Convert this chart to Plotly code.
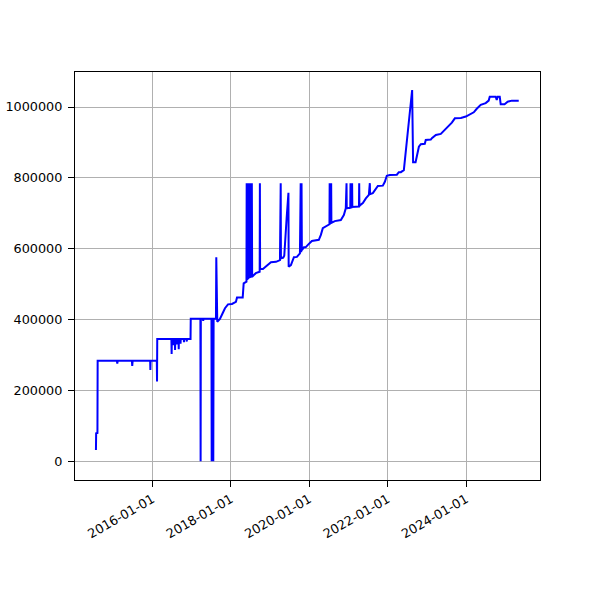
import plotly.graph_objects as go

dates = [
    "2014-07-25", "2014-07-27", "2014-08-08", "2014-08-10",
    "2015-02-05", "2015-02-09", "2015-02-13",
    "2015-06-25", "2015-06-28", "2015-07-02",
    "2015-12-12", "2015-12-14", "2015-12-16",
    "2016-02-12", "2016-02-14", "2016-02-16",
    "2016-06-27", "2016-06-29", "2016-07-01",
    "2016-07-14", "2016-07-16", "2016-07-18",
    "2016-07-29", "2016-07-31", "2016-08-02",
    "2016-08-12", "2016-08-14", "2016-08-16",
    "2016-09-01", "2016-09-03", "2016-09-05",
    "2016-09-18", "2016-09-20", "2016-09-22",
    "2016-10-20", "2016-10-22", "2016-10-24",
    "2016-11-15", "2016-11-17", "2016-11-19",
    "2016-12-22", "2016-12-24",
    "2017-03-24", "2017-03-26", "2017-03-28",
    "2017-04-17", "2017-04-19", "2017-04-21",
    "2017-07-05", "2017-07-07", "2017-07-09",
    "2017-07-20", "2017-07-22", "2017-07-25",
    "2017-08-16", "2017-08-19", "2017-08-28",
    "2017-09-22", "2017-10-17", "2017-11-08", "2017-12-06",
    "2018-01-12", "2018-02-18", "2018-02-28", "2018-04-22", "2018-05-01",
    "2018-05-27", "2018-05-29", "2018-06-03", "2018-06-06", "2018-06-11",
    "2018-06-14", "2018-06-19", "2018-06-22", "2018-06-27", "2018-06-30",
    "2018-07-05", "2018-07-08", "2018-07-13", "2018-07-16", "2018-07-19",
    "2018-08-22", "2018-09-27", "2018-09-29", "2018-10-01",
    "2018-10-27", "2018-12-15", "2019-01-10", "2019-02-26", "2019-04-04",
    "2019-04-11", "2019-04-13", "2019-05-05", "2019-05-14",
    "2019-06-05", "2019-06-22", "2019-06-24",
    "2019-07-15", "2019-08-12", "2019-09-09", "2019-10-07",
    "2019-10-14", "2019-10-19", "2019-10-22", "2019-10-25",
    "2019-11-13", "2019-11-29", "2019-12-20",
    "2020-01-26", "2020-03-31", "2020-04-19", "2020-05-07", "2020-06-14",
    "2020-07-08", "2020-07-10", "2020-07-17", "2020-07-24", "2020-07-26",
    "2020-08-27", "2020-10-22", "2020-11-19", "2020-12-07",
    "2020-12-14", "2020-12-16",
    "2021-01-18", "2021-01-20", "2021-01-22",
    "2021-02-02", "2021-02-04", "2021-02-06",
    "2021-04-09", "2021-04-11", "2021-04-13",
    "2021-04-17", "2021-05-15", "2021-06-12", "2021-07-10",
    "2021-07-19", "2021-07-21",
    "2021-08-16", "2021-09-13", "2021-10-02", "2021-11-17", "2021-12-06",
    "2021-12-24", "2022-01-21", "2022-03-28", "2022-04-15", "2022-05-04",
    "2022-06-01", "2022-08-17", "2022-08-26", "2022-09-18", "2022-09-30",
    "2022-10-19", "2022-11-06", "2022-12-13", "2022-12-22",
    "2023-02-07", "2023-02-17", "2023-03-26", "2023-05-11", "2023-05-30",
    "2023-07-06", "2023-07-25", "2023-08-22", "2023-09-19", "2023-11-14",
    "2023-12-30", "2024-02-04", "2024-03-13", "2024-04-10", "2024-05-17",
    "2024-07-02", "2024-07-30", "2024-08-09", "2024-10-03", "2024-10-13",
    "2024-10-22", "2024-11-10", "2024-11-19", "2024-12-25",
    "2025-01-23", "2025-03-02", "2025-05-06",
]

values = [
    32000, 79000, 80000, 284000,
    284000, 276000, 284000,
    284000, 269000, 284000,
    284000, 258000, 284000,
    284000, 225000, 345000,
    345000, 303000, 345000,
    345000, 328000, 345000,
    345000, 314000, 345000,
    345000, 330000, 345000,
    345000, 316000, 345000,
    345000, 332000, 345000,
    345000, 336000, 345000,
    345000, 338000, 345000,
    345000, 402000,
    402000, 0, 402000,
    402000, 396000, 402000,
    402000, 0, 402000,
    402000, 0, 402000,
    402000, 576000, 394000,
    402000, 418000, 432000, 443000,
    444000, 450000, 462000, 462000, 502000,
    507000, 785000, 512000, 785000, 514000,
    785000, 516000, 785000, 517000, 785000,
    518000, 785000, 519000, 785000, 521000,
    531000, 535000, 785000, 543000,
    543000, 556000, 562000, 563000, 568000,
    785000, 573000, 575000, 580000,
    686000, 758000, 549000,
    554000, 576000, 577000, 587000,
    785000, 590000, 785000, 596000,
    604000, 604000, 611000,
    622000, 625000, 639000, 658000, 664000,
    669000, 785000, 672000, 785000, 673000,
    678000, 681000, 695000, 714000,
    785000, 714000,
    716000, 785000, 716000,
    717000, 785000, 718000,
    719000, 785000, 720000,
    722000, 729000, 742000, 752000,
    785000, 754000,
    757000, 768000, 777000, 778000, 789000,
    806000, 808000, 809000, 816000, 816000,
    822000, 1048000, 844000, 844000, 865000,
    888000, 895000, 896000, 907000,
    908000, 912000, 921000, 924000, 930000,
    940000, 949000, 956000, 968000, 969000,
    973000, 978000, 985000, 995000, 1006000,
    1011000, 1018000, 1029000, 1029000, 1020000,
    1029000, 1029000, 1008000, 1008000,
    1015000, 1018000, 1018000,
]

x_tick_vals = ["2016-01-01", "2018-01-01", "2020-01-01", "2022-01-01", "2024-01-01"]
x_tick_text = ["2016-01-01", "2018-01-01", "2020-01-01", "2022-01-01", "2024-01-01"]
y_tick_vals = [0, 200000, 400000, 600000, 800000, 1000000]
y_tick_text = ["0", "200000", "400000", "600000", "800000", "1000000"]

fig = go.Figure()
fig.add_trace(go.Scatter(
    x=dates, y=values, mode="lines",
    line=dict(color="#0000ff", width=2.0),
    showlegend=False, hoverinfo="skip",
))

axis_common = dict(
    showline=True, linecolor="black", linewidth=1.1, mirror=True,
    showgrid=True, gridcolor="#b0b0b0", gridwidth=1.1,
    ticks="outside", ticklen=6, tickwidth=1.1, tickcolor="black",
    zeroline=False, automargin=False,
    tickfont=dict(family="DejaVu Sans", size=12.8, color="black"),
)

fig.update_xaxes(
    type="date", range=["2014-01-11", "2025-11-20"],
    tickmode="array", tickvals=x_tick_vals, ticktext=x_tick_text,
    tickangle=-30, ticklabelstandoff=0, **axis_common,
)
fig.update_yaxes(
    range=[-52800, 1098800],
    tickmode="array", tickvals=y_tick_vals, ticktext=y_tick_text,
    ticklabelstandoff=3, **axis_common,
)

fig.update_layout(
    width=600, height=600,
    margin=dict(l=75, r=60, t=72, b=120, pad=0),
    paper_bgcolor="white", plot_bgcolor="white",
    font=dict(family="DejaVu Sans", size=12.8, color="black"),
)

fig.write_html(
    "out.html",
    config={"displayModeBar": False},
    post_script="document.body.style.margin='0px';document.body.style.padding='0px';",
)
